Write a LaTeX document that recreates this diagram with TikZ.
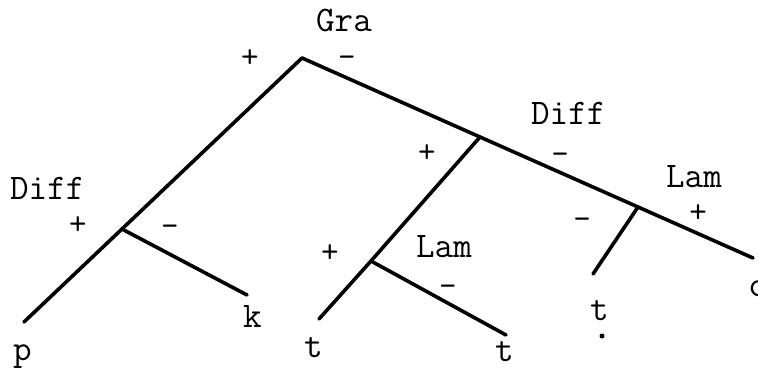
\documentclass[tikz,border=0pt]{standalone}
\usepackage{fontspec}
\begin{document}
\begin{tikzpicture}[x=1pt,y=-1pt,
  branch/.style={line width=3.6pt,line cap=round,line join=round},
  lbl/.style={font=\ttfamily\fontsize{36}{36}\selectfont,inner sep=0pt,anchor=base west},
  sgn/.style={font=\ttfamily\fontsize{34}{34}\selectfont,inner sep=0pt,text height=0.5em,text depth=0pt,anchor=base},
  neg/.style={sgn,text height=0.35em}]
\useasboundingbox (0,0) rectangle (758,382);
% tree points
\coordinate (root) at (302,58);
\coordinate (dl) at (122,229);
\coordinate (pe) at (24,322);
\coordinate (ke) at (247,295);
\coordinate (dr) at (480,137);
\coordinate (lr) at (638,207);
\coordinate (ce) at (753,258);
\coordinate (tre) at (593,274);
\coordinate (ll) at (371,261);
\coordinate (tle) at (319,319);
\coordinate (tbe) at (506,335);
% branches
\draw[branch] (root) -- (dl) -- (pe);
\draw[branch] (dl) -- (ke);
\draw[branch] (root) -- (dr) -- (lr) -- (ce);
\draw[branch] (lr) -- (tre);
\draw[branch] (dr) -- (ll) -- (tle);
\draw[branch] (ll) -- (tbe);
% labels
\node[lbl] (gra) at (316,32) {Gra};
\node[lbl] (diffl) at (10,200) {Diff};
\node[lbl] (diffr) at (531,125) {Diff};
\node[lbl] (laml) at (416,258) {Lam};
\node[lbl] (lamr) at (666,188) {Lam};
\node[lbl] (p) at (13,360) {p};
\node[lbl] (k) at (243,327) {k};
\node[lbl] (tl) at (304,357) {t};
\node[lbl] (tb) at (495,361) {t};
\node[lbl] (tr) at (590,320) {t};
\node[lbl] (c) at (748,297) {c};
\fill (602,336) circle (2.5pt);
% signs
\node[sgn] (s1) at (250,68) {+};
\node[neg] (s2) at (347,68) {-};
\node[sgn] (s3) at (78,235) {+};
\node[neg] (s4) at (170,237) {-};
\node[sgn] (s5) at (427,163) {+};
\node[neg] (s6) at (560,165) {-};
\node[sgn] (s7) at (330,262) {+};
\node[neg] (s8) at (448,297) {-};
\node[neg] (s9) at (582,230) {-};
\node[sgn] (s10) at (698,223) {+};
\end{tikzpicture}
\end{document}
